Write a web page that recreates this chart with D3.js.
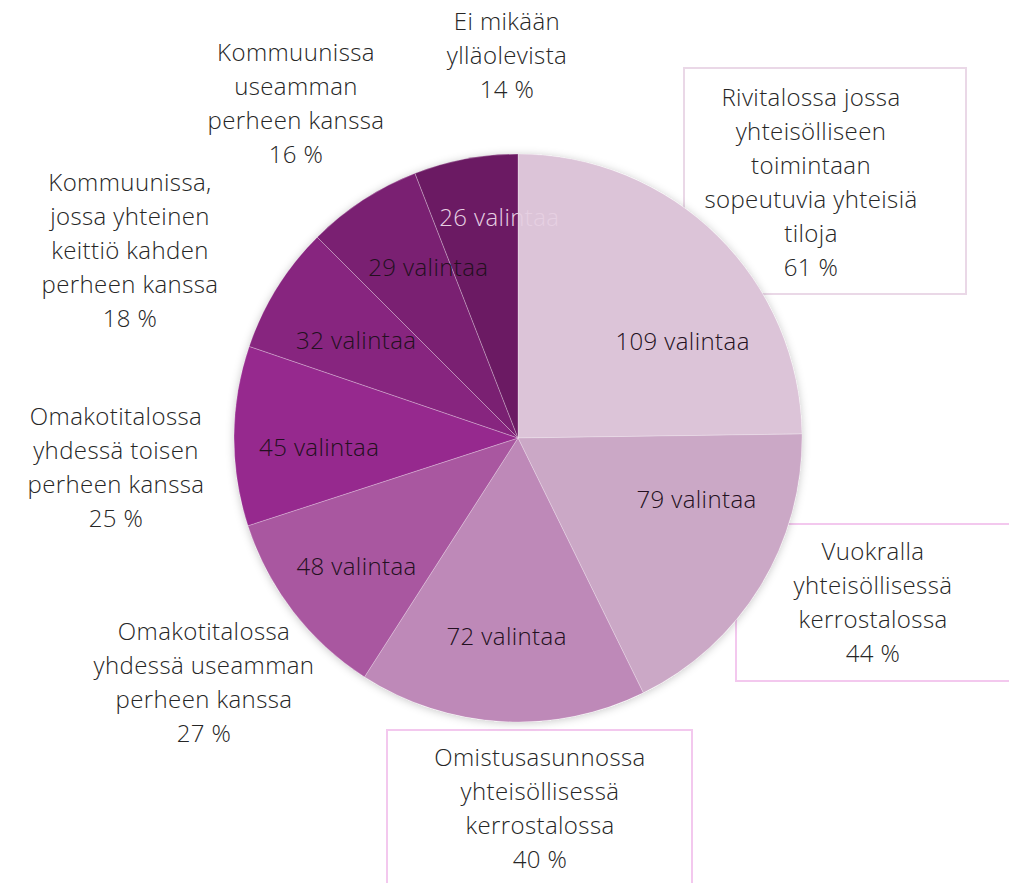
<!DOCTYPE html>
<html>
<head>
<meta charset="utf-8">
<script src="https://cdn.jsdelivr.net/npm/d3@7"></script>
<style>
  body { margin: 0; background: #fff; }
  text { font-family: "Open Sans", Lato, sans-serif; font-weight: 300; letter-spacing: 0.4px; }
</style>
</head>
<body>
<div id="chart"></div>
<script>
// Data
const categories = [
  "Rivitalossa jossa|yhteisölliseen|toimintaan|sopeutuvia yhteisiä|tiloja",
  "Vuokralla|yhteisöllisessä|kerrostalossa",
  "Omistusasunnossa|yhteisöllisessä|kerrostalossa",
  "Omakotitalossa|yhdessä useamman|perheen kanssa",
  "Omakotitalossa|yhdessä toisen|perheen kanssa",
  "Kommuunissa,|jossa yhteinen|keittiö kahden|perheen kanssa",
  "Kommuunissa|useamman|perheen kanssa",
  "Ei mikään|ylläolevista"
];
const counts = [109, 79, 72, 48, 45, 32, 29, 26];
const percents = ["61 %", "44 %", "40 %", "27 %", "25 %", "18 %", "16 %", "14 %"];
const colors = ["#dcc4d8", "#cba8c6", "#be89b8", "#a957a0", "#96298e", "#87257f", "#7a2072", "#6b1a63"];

// layout of the outer label blocks (center x, first line y, box?)
const labelPos = [
  {x: 811, y: 98, box: [684, 68, 282, 226], stroke: "#ead8e7"},
  {x: 873, y: 552, box: [736, 524, 290, 157], stroke: "#f3c8ee"},
  {x: 540, y: 758, box: [387, 730, 305, 170], stroke: "#f3c8ee"},
  {x: 204, y: 632},
  {x: 116, y: 417},
  {x: 130, y: 183},
  {x: 296, y: 53},
  {x: 507, y: 22}
];
// small nudges of the inside labels off the slice centroid
const innerNudge = [[25, 45], [9, -42], [0, 0], [-4, 7], [0, 11], [7, 8], [19, -4], [18, -25]];

const W = 1009, H = 883;
const cx = 518, cy = 438, R = 284;
const lineH = 34;

const svg = d3.select("#chart").append("svg")
  .attr("width", W).attr("height", H);

const defs = svg.append("defs");
const f = defs.append("filter").attr("id", "shadow")
  .attr("x", "-10%").attr("y", "-10%").attr("width", "120%").attr("height", "120%");
f.append("feDropShadow").attr("dx", 0).attr("dy", 1)
  .attr("stdDeviation", 4).attr("flood-color", "#000").attr("flood-opacity", 0.22);

const data = counts.map((c, i) => ({name: categories[i], value: c, pct: percents[i], color: colors[i]}));

const pie = d3.pie().sort(null).value(d => d.value);
const arcs = pie(data);
const arc = d3.arc().innerRadius(0).outerRadius(R);
const labelArc = d3.arc().innerRadius(R * 0.7).outerRadius(R * 0.7);

// boxes behind labels
labelPos.forEach(p => {
  if (!p.box) return;
  svg.append("rect")
    .attr("x", p.box[0]).attr("y", p.box[1])
    .attr("width", p.box[2]).attr("height", p.box[3])
    .attr("fill", "#fff")
    .attr("stroke", p.stroke).attr("stroke-width", 2);
});

const g = svg.append("g").attr("transform", `translate(${cx},${cy})`);

g.append("circle").attr("r", R).attr("fill", "#fff").attr("filter", "url(#shadow)");

g.selectAll("path.slice")
  .data(arcs)
  .enter().append("path")
  .attr("class", "slice")
  .attr("d", arc)
  .attr("fill", d => d.data.color)
  .attr("stroke", "rgba(255,255,255,0.35)")
  .attr("stroke-width", 0.75);

// inside labels
g.selectAll("text.count")
  .data(arcs)
  .enter().append("text")
  .attr("class", "count")
  .attr("transform", (d, i) => {
    const c = labelArc.centroid(d);
    return `translate(${c[0] + innerNudge[i][0]},${c[1] + innerNudge[i][1]})`;
  })
  .attr("text-anchor", "middle")
  .attr("dy", "0.35em")
  .attr("font-size", 24)
  .attr("fill", (d, i) => i === arcs.length - 1 ? "#e6d0e2" : "#231020")
  .text(d => d.value + " valintaa");

// outside labels
data.forEach((d, i) => {
  const p = labelPos[i];
  const lines = d.name.split("|").concat([d.pct]);
  const t = svg.append("text")
    .attr("text-anchor", "middle")
    .attr("font-size", 24)
    .attr("fill", "#262626");
  lines.forEach((l, j) => {
    t.append("tspan")
      .attr("x", p.x)
      .attr("y", p.y + j * lineH)
      .attr("dy", "0.35em")
      .text(l);
  });
});
</script>
</body>
</html>
